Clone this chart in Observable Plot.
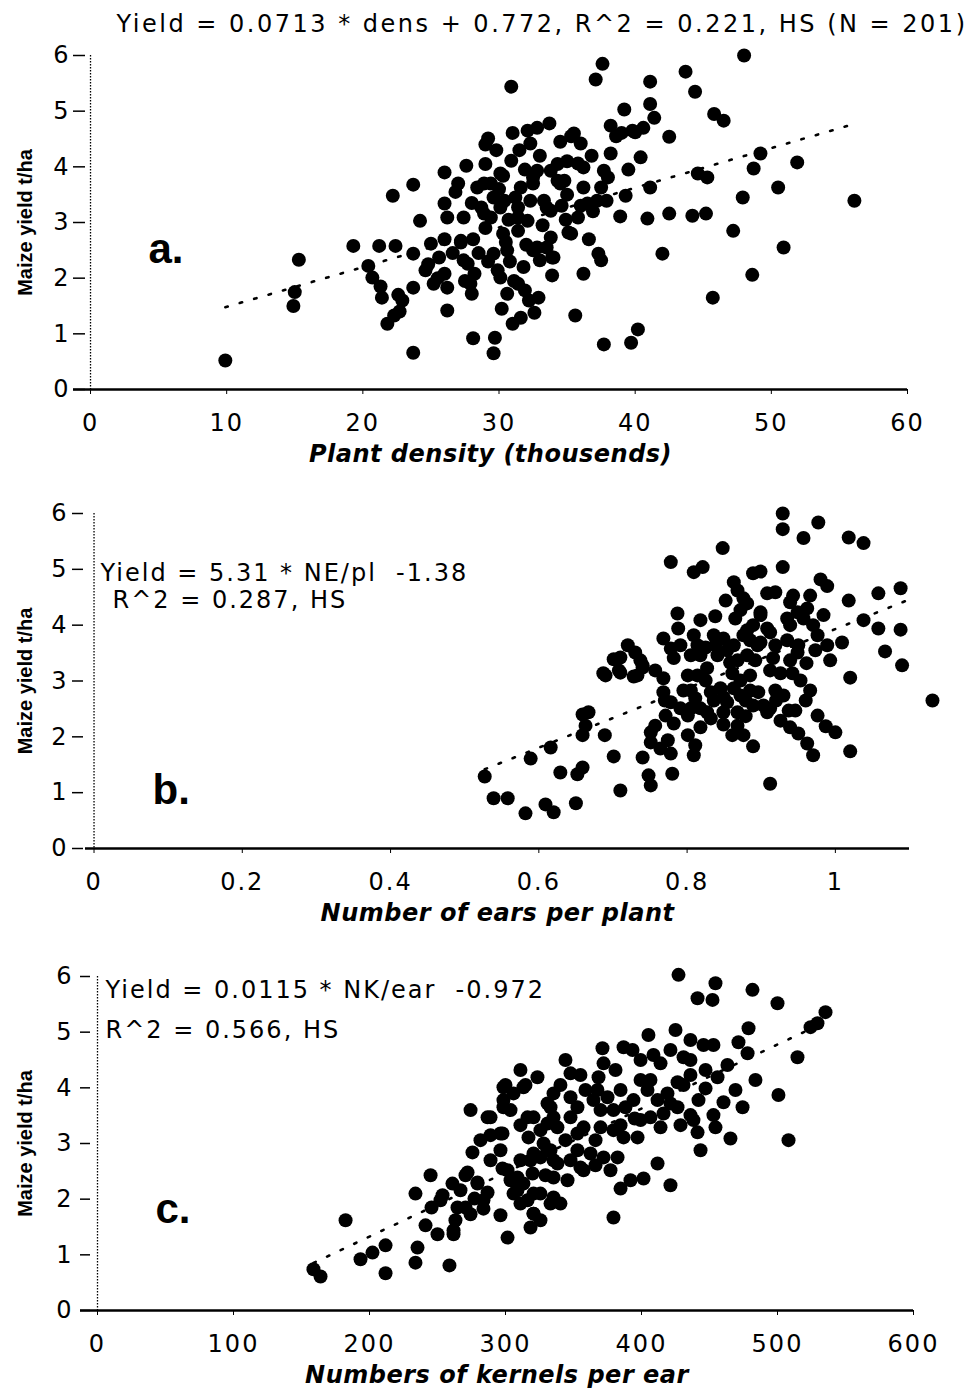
<!DOCTYPE html>
<html>
<head>
<meta charset="utf-8">
<script src="https://cdn.jsdelivr.net/npm/d3@7"></script>
<script src="https://cdn.jsdelivr.net/npm/@observablehq/plot@0.6"></script>
<style>
  body { margin: 0; background: #fff; }
  #fig { position: relative; width: 973px; height: 1395px; background: #fff; overflow: hidden; }
  #fig .panel { position: absolute; left: 0; width: 973px; }
</style>
</head>
<body>
<div id="fig"></div>
<script>
// ---- a. plant density (thousands of plants) vs maize yield (t/ha)
const densA = [9.9,15.3,15.0,14.9,19.3,21.2,22.4,22.2,23.7,24.2,
  20.4,20.7,21.3,21.4,22.6,22.9,22.3,21.8,22.7,23.7,
  23.7,23.7,24.6,25.2,26.2,28.1,29.7,29.6,25.0,26.0,
  27.2,25.6,26.0,26.2,27.7,28.2,28.0,27.9,29.6,30.6,
  29.9,30.1,31.4,31.9,30.6,32.8,33.8,33.9,32.9,32.6,
  31.6,31.0,26.0,27.6,27.0,28.4,29.4,30.3,31.6,32.5,
  33.8,34.8,26.0,26.2,27.4,28.7,29.4,30.4,31.4,32.1,
  33.3,33.8,30.3,31.4,35.1,29.2,31.0,32.1,32.8,33.7,
  32.3,30.9,35.3,30.9,29.0,28.9,29.6,30.1,30.5,32.5,
  33.0,34.0,27.4,31.1,32.3,33.5,31.4,30.1,32.5,28.9,
  32.8,34.3,35.5,36.0,35.8,36.2,34.5,36.2,36.5,37.7,
  38.0,37.2,37.5,37.9,39.3,35.8,35.3,38.2,40.4,38.2,
  39.0,39.8,40.6,42.5,39.2,41.1,41.4,45.8,46.5,48.0,
  37.6,37.1,43.7,41.1,44.4,41.1,44.6,45.3,49.2,48.7,
  51.9,50.5,47.9,56.1,38.9,40.9,42.5,44.2,45.2,47.2,
  50.9,42.0,37.3,37.5,36.2,48.6,45.7,35.6,37.7,39.7,
  40.2,33.5,27.2,34.3,36.9,34.6,29.0,28.5,31.8,32.0,
  29.0,31.5,33.0,34.5,31.2,35.0,30.0,28.0,26.8,36.8,
  30.2,33.2,26.6,24.8,38.6,40.0,36.6,25.5,29.2,30.8,
  32.2,27.5,35.0,29.8,33.9,34.9,36.0,30.7,28.1,39.5,31.9];
const yieldA = [0.52,2.33,1.75,1.50,2.58,2.58,2.58,3.48,3.68,3.03,
  2.22,2.01,1.85,1.65,1.70,1.60,1.33,1.18,1.40,1.83,
  0.66,2.44,2.14,1.90,1.42,0.92,0.93,0.65,2.62,2.70,
  2.67,2.37,2.08,1.83,2.26,2.08,1.72,1.90,2.44,2.50,
  2.14,2.01,1.90,1.78,1.72,2.55,2.73,2.37,1.65,1.38,
  1.29,1.18,3.90,4.02,3.70,3.63,3.70,3.84,3.63,3.81,
  3.93,3.75,3.34,3.09,3.09,3.27,3.09,3.39,3.27,3.03,
  3.39,3.21,2.80,2.85,2.82,4.51,4.61,4.65,4.70,4.78,
  4.42,4.11,4.55,5.44,4.40,3.16,3.45,3.88,2.65,2.50,
  2.32,2.37,2.32,1.95,3.39,3.27,3.09,3.27,3.70,3.70,
  3.93,3.75,4.60,4.42,4.06,3.99,3.70,3.63,3.34,3.93,
  3.81,3.39,3.63,3.39,3.48,3.09,2.80,4.24,4.17,4.74,
  4.61,4.65,4.70,4.54,5.03,5.13,4.88,4.95,4.83,6.00,
  5.85,5.57,5.71,5.53,5.35,3.63,3.88,3.81,4.24,3.97,
  4.08,3.63,3.45,3.39,3.11,3.07,3.16,3.12,3.16,2.85,
  2.55,2.44,2.44,2.32,2.08,2.06,1.65,1.33,0.81,0.84,
  1.08,2.55,2.64,4.05,3.20,3.30,2.90,2.45,2.20,2.60,
  4.05,4.30,4.20,4.45,3.45,3.50,3.60,3.35,3.55,4.20,
  1.45,2.95,2.45,2.25,4.55,4.62,2.70,2.00,2.30,2.30,
  1.60,1.95,4.10,4.30,2.05,3.05,3.30,3.05,2.70,3.95,3.95];

// ---- b. number of ears per plant vs maize yield
const earsB = [0.527,0.539,0.558,0.582,0.589,0.609,0.620,0.616,0.629,0.652,
  0.659,0.650,0.659,0.663,0.659,0.667,0.689,0.701,0.710,0.687,
  0.701,0.710,0.720,0.730,0.737,0.740,0.708,0.728,0.740,0.748,
  0.751,0.780,0.751,0.751,0.764,0.778,0.774,0.801,0.809,0.782,
  0.768,0.768,0.778,0.791,0.801,0.818,0.832,0.845,0.863,0.872,
  0.854,0.827,0.849,0.868,0.889,0.903,0.868,0.876,0.889,0.912,
  0.926,0.939,0.950,0.962,0.970,0.912,0.930,0.960,0.976,0.987,
  1.000,1.020,1.131,1.020,0.787,0.838,0.788,0.768,0.809,0.778,
  0.791,0.782,0.805,0.818,0.827,0.801,0.814,0.836,0.849,0.863,
  0.876,0.889,0.899,0.895,0.858,0.885,0.881,0.848,0.778,0.809,
  0.821,0.863,0.868,0.876,0.881,0.889,0.899,0.908,0.919,0.929,
  0.929,0.977,0.957,1.018,1.038,0.929,0.943,0.980,0.989,0.939,
  0.949,0.962,0.935,0.957,0.970,0.976,0.989,1.009,1.018,1.058,
  1.088,1.038,1.058,1.088,1.067,1.090,0.950,0.949,0.916,0.939,
  0.912,0.926,0.942,0.899,0.908,0.899,0.710,0.733,0.740,0.690,
  0.849,0.836,0.811,0.805,0.885,0.841,0.854,0.868,0.881,0.832,
  0.818,0.805,0.966,0.946,0.865,0.825,0.795,0.908,0.920,0.849,
  0.879,0.896,0.973,0.961,0.852,0.872,0.912,0.935,0.757,0.770,
  0.814,0.838,0.861,0.892,0.919,0.818,0.885,0.939,0.966,0.984,
  0.993,0.953,0.872,0.825,0.771,0.757,0.919,0.937,0.879,0.861,0.811];
const yieldB = [1.29,0.90,0.90,0.63,1.61,0.79,0.65,1.81,1.36,1.33,
  1.45,0.81,2.40,2.20,2.03,2.44,2.03,1.65,1.04,3.14,
  3.39,3.42,3.64,3.51,3.37,3.24,3.19,3.08,1.63,1.31,
  1.13,1.34,2.08,1.90,1.79,1.70,1.94,2.03,1.67,2.24,
  3.05,2.80,2.62,2.51,2.38,2.51,2.80,2.87,2.87,2.74,
  2.62,2.44,2.44,2.44,2.56,2.56,2.20,2.03,1.83,2.51,
  2.29,2.17,2.06,1.88,1.67,1.16,2.74,2.65,2.38,2.19,
  2.08,1.74,2.65,3.06,4.21,4.16,3.94,3.76,3.82,3.58,
  3.64,3.41,3.46,3.46,3.23,3.10,3.10,3.82,3.76,3.64,
  3.82,4.00,4.18,3.64,3.33,3.10,3.46,5.38,5.13,4.95,
  5.04,4.77,4.62,4.48,4.39,4.93,4.96,4.57,4.59,6.00,
  5.72,5.84,5.56,5.57,5.47,5.04,4.53,4.82,4.70,4.41,
  4.23,4.30,4.12,4.12,4.00,3.82,3.64,3.69,4.44,4.57,
  4.66,4.09,3.94,3.92,3.53,3.28,3.64,3.51,3.41,3.37,
  3.19,3.14,3.14,4.23,3.94,3.69,3.15,3.10,3.28,3.10,
  2.71,2.65,2.69,2.51,2.83,3.46,3.55,3.37,3.91,2.33,
  2.17,2.83,2.83,2.47,4.12,3.60,2.83,2.44,2.65,2.22,
  2.37,2.80,3.55,3.32,4.44,4.27,3.87,3.73,3.19,2.65,
  3.64,3.64,3.14,3.37,3.64,4.09,3.73,4.00,4.53,4.18,
  3.37,3.01,3.01,3.01,2.38,2.20,2.83,2.47,2.65,2.03,1.85];

// ---- c. number of kernels per ear vs maize yield
const kernelsC = [158.8,164,182.4,193.4,202.2,211.8,211.8,233.8,235.3,233.8,
  258.8,250,261.8,245.6,253.7,261,270.6,279.4,270.6,274.3,
  283.8,277.2,301.5,275.7,274.3,286.8,296.3,298.5,298.5,305.9,
  313.2,323.5,301.5,311,320.6,330.9,308.8,305.9,311,320.6,
  320.6,325.7,335.3,318.4,330.9,335.3,320.6,335.3,335.3,427.2,
  454.4,441.2,452.2,481.6,500,535.3,529.4,524.3,514.7,500.7,
  508.1,478.7,471.3,478,455.9,460.3,465.4,474.3,452.9,454.4,
  441.9,438.2,441.2,426.5,430.9,425,405.1,436,445.6,452.9,
  430.9,436,408.8,414,386.8,393.4,371.3,372.1,368.4,367.6,
  364.7,375,384.6,388.2,379.4,394.1,399.3,404.4,411.8,419.1,
  421.3,416.2,426.5,406.6,414,397.1,386.8,379.4,369.9,357.4,
  352.9,347.8,352.9,347.8,347.8,355.1,335.3,333.1,316.2,330.9,
  338.2,314.7,300,298.5,303.7,289,297.8,316.9,272.1,279.4,
  297.8,303.7,318.4,325.7,333.1,338.2,347.8,352.9,362.5,372.1,
  382.4,377.2,355.1,308.8,316.2,320.6,333.1,340.4,313.2,319.9,
  283.8,264.7,261.8,384.6,391.9,401.5,411.8,421.3,379.4,357.4,
  286.8,266.9,252.2,366.2,344.1,399.3,421.3,463.2,447.1,436,
  406.6,380.9,358.8,340.4,325.7,311,289,369.9,399.3,428.7,
  483.8,443.4,296.3,289,329.4,345.6,366.2,325.7,296.3,241.2,
  244.9,311,344.1,395,469.1,447.1,384.6,328,281.6,263.2,436];
const yieldC = [0.74,0.61,1.62,0.92,1.04,1.17,0.67,2.10,1.13,0.86,
  0.81,1.37,1.37,1.85,2.07,2.28,2.43,2.28,1.85,1.73,
  1.83,2.01,1.31,2.84,3.60,3.47,3.18,3.65,4.01,3.90,
  4.01,4.19,2.52,2.70,2.82,2.88,2.39,2.10,1.92,1.74,
  2.10,2.10,2.03,1.49,3.72,3.47,3.47,2.70,2.39,6.03,
  5.88,5.61,5.58,5.76,5.52,5.36,5.16,5.09,4.55,3.87,
  3.06,5.07,4.82,4.62,4.19,3.74,3.09,3.65,3.51,3.29,
  3.78,3.42,3.20,4.10,4.05,5.04,4.95,4.86,4.77,4.77,
  4.55,4.50,4.59,4.44,4.73,4.68,4.71,4.44,4.19,3.96,
  3.78,3.83,3.96,3.65,3.60,3.78,4.14,3.96,3.78,3.90,
  3.72,3.54,3.65,3.47,3.29,3.11,3.11,3.24,3.29,3.29,
  3.18,3.47,3.65,3.83,4.26,4.23,3.90,3.65,3.47,3.36,
  3.29,4.05,4.05,3.78,3.60,3.47,3.18,3.11,2.48,2.30,
  2.55,2.34,2.70,2.75,2.88,2.64,2.70,2.88,2.82,2.75,
  2.75,2.52,2.57,2.16,1.98,1.74,1.92,1.92,2.28,2.46,
  1.98,1.85,1.44,2.19,2.34,2.37,2.64,2.25,1.67,2.52,
  2.12,2.16,1.98,3.06,3.06,4.50,4.68,4.41,4.32,3.51,
  4.14,4.32,3.96,4.05,3.24,3.33,3.15,3.60,3.42,3.33,
  4.14,2.88,2.88,2.70,2.43,2.34,2.61,1.62,1.71,1.53,
  2.43,4.32,4.50,3.45,3.96,3.99,3.33,3.00,3.06,1.62,4.23];

// Fitted regression lines (slope, intercept) as reported with each panel
const fitA = [0.0713, 0.772];
const fitB = [5.31, -1.38];
const fitC = [0.0115, -0.972];

// Axis ticks
const yTicks = [0, 1, 2, 3, 4, 5, 6];
const xTicksA = [0, 10, 20, 30, 40, 50, 60];
const xTicksB = [0, 0.2, 0.4, 0.6, 0.8, 1];
const xTicksC = [0, 100, 200, 300, 400, 500, 600];

// Text
const yLabel = "Maize yield t/ha";
const xLabelA = "Plant density (thousends)";
const xLabelB = "Number of ears per plant";
const xLabelC = "Numbers of kernels per ear";
const titleA = "Yield = 0.0713 * dens + 0.772, R^2 = 0.221, HS (N = 201)";
const notesB = ["Yield = 5.31 * NE/pl  -1.38", "R^2 = 0.287, HS"];
const notesC = ["Yield = 0.0115 * NK/ear  -0.972", "R^2 = 0.566, HS"];
const letters = ["a.", "b.", "c."];

// letter-spacing per kind of text (tick labels and notes use the svg default)
const spacing = new Map([
  [titleA, "2.5px"],
  [yLabel, "0px"],
  [xLabelA, "0.5px"], [xLabelB, "0.5px"], [xLabelC, "0.5px"],
  ...letters.map(l => [l, "0px"])
]);

function drawPanel(cfg) {
  const rows = cfg.xs.map((x, i) => ({x, y: cfg.ys[i]}));
  const [slope, intercept] = cfg.fit;
  const lo = d3.min(cfg.xs);
  const hi = Math.min(d3.max(cfg.xs), cfg.xDomain[1]);
  const fitLine = [lo, hi].map(x => ({x, y: slope * x + intercept}));

  const marks = [
    // left axis line (dotted) and bottom axis line
    Plot.ruleX([0], {stroke: "#000", strokeWidth: 1.3, strokeDasharray: "1.5,1.5"}),
    Plot.ruleY([0], {stroke: "#000", strokeWidth: 2.6}),
    Plot.axisY({ticks: yTicks, tickFormat: d => String(d), tickSize: cfg.yTick[0],
      tickPadding: cfg.yTick[1], dx: cfg.yTick[2], strokeWidth: 1.5, label: null}),
    Plot.axisX({ticks: cfg.xTicks, tickFormat: d => String(d), tickSize: 5,
      tickPadding: 19, strokeWidth: 1, label: null}),
    Plot.line(fitLine, {x: "x", y: "y", stroke: "#000", strokeWidth: 2.6,
      strokeDasharray: "2.5,12.5"}),
    Plot.dot(rows, {x: "x", y: "y", r: 7, fill: "#000"}),
    Plot.text([cfg.xLabel], {text: d => d, frameAnchor: "bottom", dy: 72,
      fontWeight: "bold", fontStyle: "italic"}),
    Plot.text([yLabel], {text: d => d, frameAnchor: "left", rotate: -90,
      textAnchor: "middle", lineAnchor: "middle",
      dx: 25 - cfg.marginLeft, fontFamily: "Liberation Sans", fontWeight: "bold",
      fontSize: 20}),
    Plot.text([cfg.letter], {text: d => d, frameAnchor: "top-left", textAnchor: "start",
      lineAnchor: "bottom", dx: cfg.letterAt[0], dy: cfg.letterAt[1],
      fontFamily: "Liberation Sans", fontWeight: "bold", fontSize: 42})
  ];
  (cfg.notes || []).forEach((line, i) => {
    marks.push(Plot.text([line], {text: d => d, frameAnchor: "top-left",
      textAnchor: "start", lineAnchor: "bottom",
      dx: cfg.notesAt[i][0], dy: cfg.notesAt[i][1]}));
  });
  if (cfg.title) {
    marks.push(Plot.text([cfg.title], {text: d => d, frameAnchor: "top-right",
      textAnchor: "end", lineAnchor: "bottom", dx: 60, dy: -24}));
  }

  const svg = Plot.plot({
    width: 973,
    height: cfg.height,
    marginTop: cfg.marginTop,
    marginBottom: cfg.marginBottom,
    marginLeft: cfg.marginLeft,
    marginRight: cfg.marginRight,
    style: {fontFamily: "DejaVu Sans", fontSize: "24px", letterSpacing: "2px",
      color: "#000", background: "#fff"},
    x: {domain: cfg.xDomain},
    y: {domain: [0, 6]},
    marks
  });
  d3.select(svg).selectAll("text")
    .filter(function () { return spacing.has(this.textContent); })
    .style("letter-spacing", function () { return spacing.get(this.textContent); });

  const holder = document.createElement("div");
  holder.className = "panel";
  holder.style.top = cfg.top + "px";
  holder.appendChild(svg);
  document.getElementById("fig").appendChild(holder);
}

drawPanel({
  xs: densA, ys: yieldA, fit: fitA, xTicks: xTicksA, xDomain: [-1.25, 60],
  top: 0, height: 470, marginTop: 55, marginBottom: 81, marginLeft: 73, marginRight: 66,
  yTick: [12, 3, 12], xLabel: xLabelA, letter: letters[0], letterAt: [75, 207], title: titleA
});
drawPanel({
  xs: earsB, ys: yieldB, fit: fitB, xTicks: xTicksB, xDomain: [-0.0115, 1.1],
  top: 470, height: 460, marginTop: 43, marginBottom: 82, marginLeft: 85, marginRight: 64,
  yTick: [11, 4, -2], xLabel: xLabelB, letter: letters[1], letterAt: [67, 290],
  notes: notesB, notesAt: [[15, 67], [27, 94]]
});
drawPanel({
  xs: kernelsC, ys: yieldC, fit: fitC, xTicks: xTicksC, xDomain: [-12.5, 600],
  top: 930, height: 465, marginTop: 46, marginBottom: 85, marginLeft: 80, marginRight: 60,
  yTick: [10, 7, 10], xLabel: xLabelC, letter: letters[2], letterAt: [75, 246],
  notes: notesC, notesAt: [[25, 21], [25, 61]]
});
</script>
</body>
</html>
